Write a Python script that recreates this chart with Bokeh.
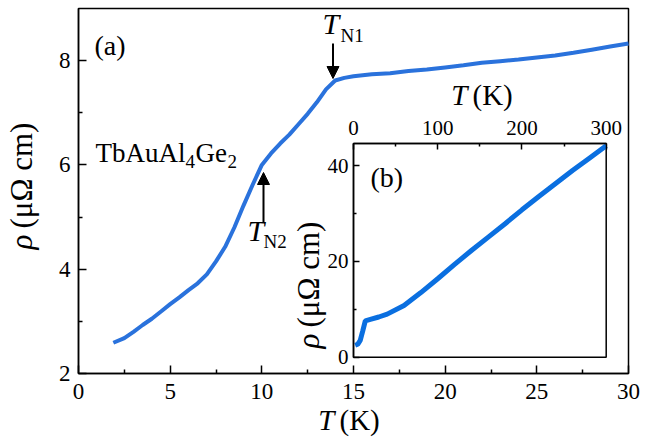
import math
from bokeh.plotting import figure
from bokeh.models import Range1d, LinearAxis, FixedTicker, Label, Arrow, NormalHead
from bokeh.embed import file_html
from bokeh.resources import INLINE

# ---------------- data ----------------
T_main = [1.9, 2.5, 3.0, 3.5, 4.0, 4.5, 5.0, 5.5, 6.0, 6.5, 7.0, 7.5, 8.0, 8.5,
          9.0, 9.5, 10.0, 10.5, 11.0, 11.5, 12.0, 12.5, 13.0, 13.5, 14.0, 14.5,
          15, 16, 17, 18, 19, 20, 21, 22, 23, 24, 25, 26, 27, 28, 29, 30]
rho_main = [2.59, 2.68, 2.80, 2.93, 3.05, 3.19, 3.33, 3.46, 3.60, 3.73, 3.90, 4.15,
            4.43, 4.80, 5.22, 5.62, 6.00, 6.22, 6.41, 6.58, 6.78, 6.98, 7.20, 7.45,
            7.62, 7.67, 7.70, 7.74, 7.76, 7.80, 7.83, 7.87, 7.91, 7.96, 7.99, 8.02,
            8.06, 8.10, 8.15, 8.21, 8.27, 8.33]

T_inset = [2, 5, 8, 11, 14, 20, 30, 40, 60, 80, 100, 120, 140, 160, 180, 200,
           220, 240, 260, 280, 300]
rho_inset = [2.5, 2.7, 3.5, 5.5, 7.6, 7.9, 8.4, 9.0, 10.8, 13.5, 16.4, 19.4, 22.3,
             25.1, 27.9, 30.8, 33.6, 36.3, 39.0, 41.6, 44.2]

x_ticks = [0, 5, 10, 15, 20, 25, 30]
x_minor = [2.5, 7.5, 12.5, 17.5, 22.5, 27.5]
y_ticks = [2, 4, 6, 8]
y_minor = [3, 5, 7]
ix_ticks = [0, 100, 200, 300]
ix_minor = [50, 150, 250]
iy_ticks = [0, 20, 40]
iy_minor = [10, 30]

XLIM = (0, 30)
YLIM = (2, 9)
INSET_XLIM = (0, 300)
INSET_YLIM = (0, 44.66)

# ---------------- geometry (canvas pixels) ----------------
W, H = 653, 439
FR_L, FR_R, FR_T, FR_B = 78, 628, 8, 373          # main plot box
IN_L, IN_R, IN_T, IN_B = 353, 605.7, 143, 356.7   # inset plot box

SERIF = "Liberation Serif"
AXIS_FONT = "'Liberation Serif', 'Times New Roman', serif"
MAIN_BLUE = "#2a72dc"
INSET_BLUE = "#0a6fe0"

def px_x(px):
    return XLIM[0] + (px - FR_L) / (FR_R - FR_L) * (XLIM[1] - XLIM[0])

def px_y(py):
    return YLIM[1] - (py - FR_T) / (FR_B - FR_T) * (YLIM[1] - YLIM[0])

# the drawing frame covers the whole canvas; boxes are placed through the ranges
sx = (IN_R - IN_L) / (INSET_XLIM[1] - INSET_XLIM[0])
sy = (IN_B - IN_T) / (INSET_YLIM[1] - INSET_YLIM[0])
ix_range = Range1d(INSET_XLIM[0] - IN_L / sx, INSET_XLIM[1] + (W - IN_R) / sx)
iy_range = Range1d(INSET_YLIM[0] - (H - IN_B) / sy, INSET_YLIM[1] + IN_T / sy)

p = figure(width=W, height=H, output_backend="svg", toolbar_location=None,
           x_range=Range1d(px_x(0), px_x(W)), y_range=Range1d(px_y(H), px_y(0)),
           x_axis_location=None, y_axis_location=None,
           min_border_left=0, min_border_right=0, min_border_top=0, min_border_bottom=0)
p.extra_x_ranges = {"ix": ix_range}
p.extra_y_ranges = {"iy": iy_range}
p.grid.visible = False
p.outline_line_color = None
p.background_fill_color = "white"
p.border_fill_color = "white"

# main box
p.quad(left=[XLIM[0]], right=[XLIM[1]], bottom=[YLIM[0]], top=[YLIM[1]],
       fill_color=None, line_color="black", line_width=1.5)

# main curve
p.line(T_main, rho_main, line_width=4, color=MAIN_BLUE)

# inset box + curve
p.quad(left=[INSET_XLIM[0]], right=[INSET_XLIM[1]], bottom=[INSET_YLIM[0]], top=[INSET_YLIM[1]],
       x_range_name="ix", y_range_name="iy", fill_color="white",
       line_color="black", line_width=1.5)
p.line(T_inset, rho_inset, x_range_name="ix", y_range_name="iy",
       line_width=5, color=INSET_BLUE)

def style_axis(ax, tick_in, minor_in, size, standoff):
    ax.axis_line_width = 1.5
    ax.major_tick_line_width = 1.5
    ax.minor_tick_line_width = 1.5
    ax.major_tick_in = tick_in
    ax.major_tick_out = 0
    ax.minor_tick_in = minor_in
    ax.minor_tick_out = 0
    ax.major_label_text_font = AXIS_FONT
    ax.major_label_text_font_size = size
    ax.major_label_text_color = "black"
    ax.major_label_standoff = standoff

# main axes (drawn at the box edges)
xa = LinearAxis(fixed_location=YLIM[0], bounds=XLIM,
                ticker=FixedTicker(ticks=x_ticks, minor_ticks=x_minor))
ya = LinearAxis(fixed_location=XLIM[0], bounds=YLIM,
                ticker=FixedTicker(ticks=y_ticks, minor_ticks=y_minor))
style_axis(xa, 8, 4, "23px", 10)
style_axis(ya, 8, 4, "23px", 8)
p.add_layout(xa, "below")
p.add_layout(ya, "left")

# inset axes
ax_top = LinearAxis(x_range_name="ix", y_range_name="iy", fixed_location=INSET_YLIM[1],
                    bounds=INSET_XLIM, ticker=FixedTicker(ticks=ix_ticks, minor_ticks=ix_minor))
ax_left = LinearAxis(x_range_name="ix", y_range_name="iy", fixed_location=INSET_XLIM[0],
                     bounds=INSET_YLIM, ticker=FixedTicker(ticks=iy_ticks, minor_ticks=iy_minor))
style_axis(ax_top, 6, 3, "21px", 9)
style_axis(ax_left, 6, 3, "21px", 5)
p.add_layout(ax_top, "above")
p.add_layout(ax_left, "left")

def lab(text, px, py, size, style="normal", align="left", angle=0.0):
    # px, py: wanted baseline point in canvas pixels (from top-left)
    s = float(size.replace("px", ""))
    if angle == 0.0:
        py = py - 0.4 * s
    else:
        px = px - 0.4 * s
    p.add_layout(Label(x=px, y=H - py, x_units="screen", y_units="screen",
                       text=text, text_font=SERIF,
                       text_font_size=size, text_font_style=style, text_align=align,
                       text_baseline="alphabetic", angle=angle, text_color="black"))

# axis titles
lab("T", 334, 431, "29px", "italic", "right")
lab("(K)", 339, 431, "29px")
lab("ρ", 33, 234, "31px", "italic", "right", math.pi / 2)
lab("(μΩ cm)", 33, 228, "31px", "normal", "left", math.pi / 2)

# inset titles
lab("T", 467, 106, "29px", "italic", "right")
lab("(K)", 472, 106, "29px")
lab("ρ", 320, 333, "31px", "italic", "right", math.pi / 2)
lab("(μΩ cm)", 320, 327, "31px", "normal", "left", math.pi / 2)

# panel tags and compound
lab("(a)", 94, 56, "28px")
lab("(b)", 370, 188, "28px")
lab("TbAuAl", 95, 163, "27px")
lab("4", 185, 169, "19px")
lab("Ge", 195, 163, "27px")
lab("2", 227, 169, "19px")

# transition labels
lab("T", 322, 35, "30px", "italic")
lab("N1", 340, 43, "19px")
lab("T", 247, 242, "30px", "italic")
lab("N2", 263, 249, "19px")

head = dict(size=12, fill_color="black", line_color="black")
p.add_layout(Arrow(end=NormalHead(**head), x_start=px_x(332.5), y_start=px_y(43),
                   x_end=px_x(332.5), y_end=px_y(78), line_width=2, line_color="black"))
p.add_layout(Arrow(end=NormalHead(**head), x_start=px_x(263), y_start=px_y(222),
                   x_end=px_x(263), y_end=px_y(172), line_width=2, line_color="black"))

open("out.html", "w").write(file_html(p, INLINE))
